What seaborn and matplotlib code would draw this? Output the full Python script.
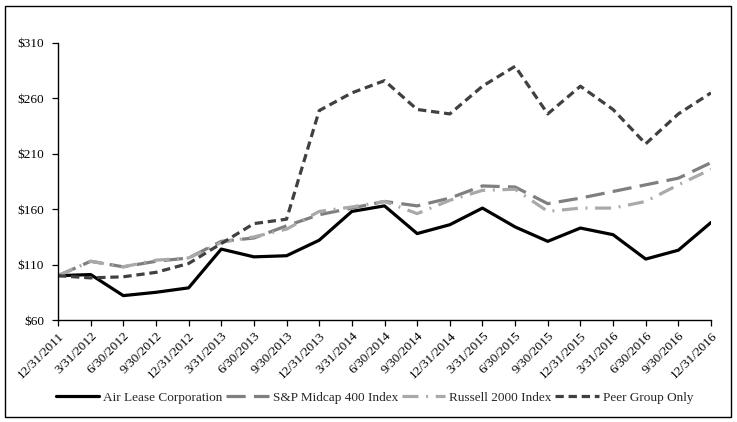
import pandas as pd
import seaborn as sns
import matplotlib.pyplot as plt
from matplotlib.patches import Rectangle

# --- data ---
dates = ['12/31/2011', '3/31/2012', '6/30/2012', '9/30/2012', '12/31/2012',
         '3/31/2013', '6/30/2013', '9/30/2013', '12/31/2013', '3/31/2014',
         '6/30/2014', '9/30/2014', '12/31/2014', '3/31/2015', '6/30/2015',
         '9/30/2015', '12/31/2015', '3/31/2016', '6/30/2016', '9/30/2016',
         '12/31/2016']
air_lease = [100, 101, 82, 85, 89, 124, 117, 118, 132, 158, 163, 138, 146,
             161, 144, 131, 143, 137, 115, 123, 148]
sp_midcap = [100, 113, 108, 113, 116, 131, 134, 145, 155, 161, 167, 163, 170,
             181, 180, 165, 170, 176, 182, 188, 202]
russell = [100, 113, 108, 114, 116, 130, 135, 142, 158, 162, 167, 156, 168,
           177, 178, 158, 161, 161, 167, 182, 196]
peer = [100, 98, 99, 103, 111, 129, 147, 151, 249, 265, 276, 250, 246,
        271, 289, 246, 271, 250, 219, 246, 265]
yticks = [60, 110, 160, 210, 260, 310]

sns.set_style('ticks')
plt.rcParams['font.family'] = ['Liberation Serif', 'DejaVu Serif']

fig = plt.figure(figsize=(7.37, 4.22), dpi=100)
ax = fig.add_axes([58 / 737, 1 - 320 / 422, 653 / 737, 277 / 422])

x = list(range(len(dates)))
series = [
    ('Air Lease Corporation', air_lease, '#000000', '-', 2.3),
    ('S&P Midcap 400 Index', sp_midcap, '#7f7f7f', (0, (6, 2.6)), 2.3),
    ('Russell 2000 Index', russell, '#a9a9a9', (0, (5, 2.4, 0.6, 2.4)), 2.3),
    ('Peer Group Only', peer, '#404040', (0, (2.6, 1.5)), 2.3),
]
for name, vals, col, ls, lw in series:
    sns.lineplot(x=x, y=vals, ax=ax, color=col, linestyle=ls, linewidth=lw,
                 label=name, legend=False)

ax.set_xlim(0, len(dates) - 1)
ax.set_ylim(60, 310)
ax.set_xticks(x)
ax.set_xticklabels(dates, rotation=45, ha='right', rotation_mode='anchor')
ax.set_yticks(yticks)
ax.set_yticklabels(['$' + str(v) for v in yticks])
ax.tick_params(axis='both', labelsize=9.5, colors='black', direction='out',
               length=4, width=0.9)
ax.tick_params(axis='y', pad=6)
ax.tick_params(axis='x', pad=3)
for s in ['top', 'right']:
    ax.spines[s].set_visible(False)
for s in ['left', 'bottom']:
    ax.spines[s].set_color('black')
    ax.spines[s].set_linewidth(1.0)
ax.set_xlabel('')
ax.set_ylabel('')

handles, labels = ax.get_legend_handles_labels()
fig.legend(handles, labels, loc='center', bbox_to_anchor=(0.508, 0.057),
           ncol=4, frameon=False, fontsize=9.5, handlelength=3.3,
           handletextpad=0.3, columnspacing=0.25)

fig.patches.append(Rectangle((5 / 737, 5 / 422), 726 / 737, 411 / 422,
                             transform=fig.transFigure, fill=False,
                             edgecolor='black', linewidth=1.0))

fig.savefig('out.png', dpi=100)
